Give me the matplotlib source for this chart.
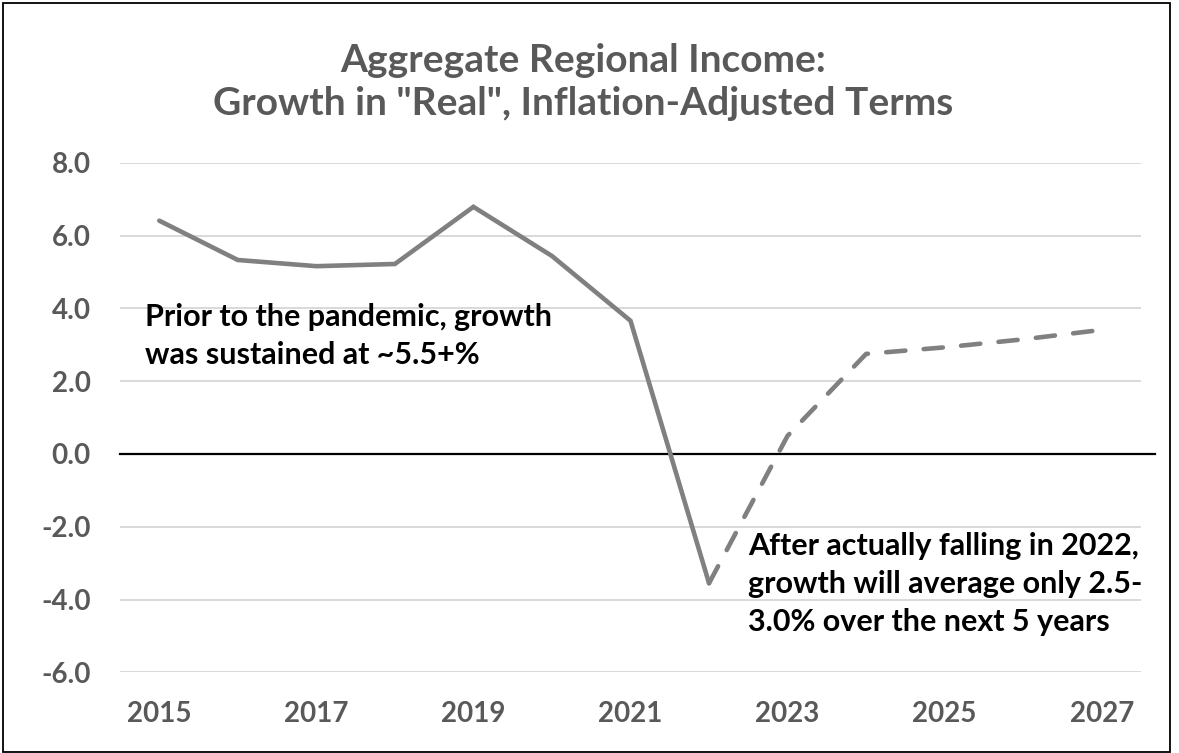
import matplotlib
matplotlib.use("Agg")
from matplotlib import pyplot as plt
from matplotlib.patches import Rectangle

# data
years_actual = [2015, 2016, 2017, 2018, 2019, 2020, 2021, 2022]
growth_actual = [6.41, 5.33, 5.16, 5.22, 6.79, 5.44, 3.66, -3.55]
years_forecast = [2022, 2023, 2024, 2025, 2026, 2027]
growth_forecast = [-3.55, 0.5, 2.75, 2.93, 3.15, 3.41]
y_ticks = [-6.0, -4.0, -2.0, 0.0, 2.0, 4.0, 6.0, 8.0]
x_ticks = [2015, 2017, 2019, 2021, 2023, 2025, 2027]

title = 'Aggregate Regional Income:\nGrowth in "Real", Inflation-Adjusted Terms'
note_left = "Prior to the pandemic, growth\nwas sustained at ~5.5+%"
note_right = "After actually falling in 2022,\ngrowth will average only 2.5-\n3.0% over the next 5 years"

W, H = 1179, 753
plt.rcParams['font.family'] = ['Lato', 'DejaVu Sans']
fig = plt.figure(figsize=(W / 100, H / 100), dpi=100)

ax = fig.add_axes([120 / W, 1 - 672.4 / H, 1021 / W, (672.4 - 162.8) / H])

line_color = '#808080'
text_gray = '#595959'

ax.plot(years_actual, growth_actual, color=line_color, lw=3.3,
        solid_capstyle='round', solid_joinstyle='miter', zorder=3)
ax.plot(years_forecast, growth_forecast, color=line_color, lw=3.3,
        linestyle=(0, (4.2, 4.0)), dash_capstyle='round', zorder=3)

ax.set_xlim(2014.5, 2027.5)
ax.set_ylim(-6, 8)
ax.set_yticks(y_ticks)
ax.set_yticklabels(['%.1f' % v for v in y_ticks])
ax.set_xticks(x_ticks)
ax.set_xticklabels([str(y) for y in x_ticks])
ax.tick_params(length=0, labelsize=20, labelcolor=text_gray)
ax.tick_params(axis='y', pad=21)
ax.tick_params(axis='x', pad=20.5)
for lab in ax.get_xticklabels() + ax.get_yticklabels():
    lab.set_fontweight('bold')

ax.grid(axis='y', color='#d9d9d9', lw=1.4)
ax.set_axisbelow(True)
for s in ax.spines.values():
    s.set_visible(False)
# zero line runs a bit past the plot area
ax.axhline(0, xmin=0, xmax=1.0137, color='black', lw=1.6, clip_on=False, zorder=2)

fig.text(583 / W, 1 - 82 / H, title, ha='center', va='center', fontsize=28,
         fontweight='bold', color=text_gray, linespacing=1.28)
fig.text(145 / W, 1 - 336 / H, note_left, ha='left', va='center', fontsize=22,
         fontweight='bold', color='black', linespacing=1.42)
fig.text(748 / W, 1 - 584 / H, note_right, ha='left', va='center', fontsize=22,
         fontweight='bold', color='black', linespacing=1.45)

# outer frame
fig.patches.append(Rectangle((2.5 / W, 1.5 / H), 1167.5 / W, 749 / H,
                             transform=fig.transFigure, fill=False,
                             edgecolor='black', lw=1.3))

fig.savefig('out.png', dpi=100)
